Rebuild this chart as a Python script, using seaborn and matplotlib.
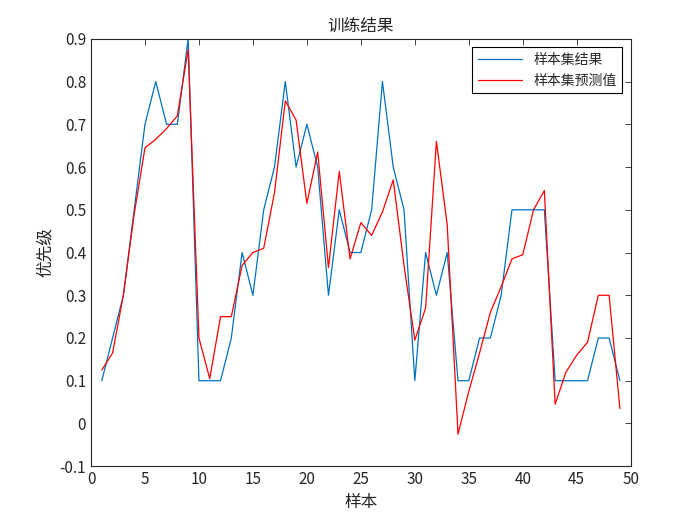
import numpy as np
import pandas as pd
import matplotlib
matplotlib.use('agg')
import matplotlib.pyplot as plt
import seaborn as sns

samples = list(range(1, 50))
actual = [0.1, 0.2, 0.3, 0.5, 0.7, 0.8, 0.7, 0.7, 0.9, 0.1,
          0.1, 0.1, 0.2, 0.4, 0.3, 0.5, 0.6, 0.8, 0.6, 0.7,
          0.6, 0.3, 0.5, 0.4, 0.4, 0.5, 0.8, 0.6, 0.5, 0.1,
          0.4, 0.3, 0.4, 0.1, 0.1, 0.2, 0.2, 0.3, 0.5, 0.5,
          0.5, 0.5, 0.1, 0.1, 0.1, 0.1, 0.2, 0.2, 0.1]
predicted = [0.125, 0.165, 0.3, 0.49, 0.645, 0.665, 0.69, 0.72, 0.875, 0.2,
             0.105, 0.25, 0.25, 0.37, 0.4, 0.41, 0.54, 0.755, 0.71, 0.515,
             0.635, 0.365, 0.59, 0.385, 0.47, 0.44, 0.495, 0.57, 0.37, 0.195,
             0.27, 0.66, 0.465, -0.025, 0.075, 0.165, 0.26, 0.32, 0.385, 0.395,
             0.5, 0.545, 0.045, 0.12, 0.16, 0.19, 0.3, 0.3, 0.035]

sns.set_style('white')
plt.rcParams['font.family'] = ['Noto Sans CJK SC', 'DejaVu Sans']
plt.rcParams['xtick.direction'] = 'in'
plt.rcParams['ytick.direction'] = 'in'

fig = plt.figure(figsize=(7, 5.25), dpi=100)
ax = fig.add_axes([0.13, 0.112, 0.771, 0.814])

sns.lineplot(x=samples, y=actual, ax=ax, color='#0072BD', lw=0.9, label='样本集结果')
sns.lineplot(x=samples, y=predicted, ax=ax, color='red', lw=0.9, label='样本集预测值')

ax.set_xlim(0, 50)
ax.set_ylim(-0.1, 0.9)
ax.set_xticks(np.arange(0, 51, 5))
ax.set_yticks(np.round(np.arange(-0.1, 0.91, 0.1), 1))
ax.set_yticklabels([f'{v:g}' for v in np.round(np.arange(-0.1, 0.91, 0.1), 1)])
ax.tick_params(labelsize=11, length=4, width=0.6, top=True, right=True, colors='#262626')
for s in ax.spines.values():
    s.set_linewidth(0.8)
    s.set_color('#262626')

ax.set_title('训练结果', fontsize=12)
ax.set_xlabel('样本', fontsize=12)
ax.set_ylabel('优先级', fontsize=12)
leg = ax.legend(loc='upper right', fontsize=10, fancybox=False, framealpha=1,
                edgecolor='black', borderaxespad=0.6, handlelength=3.2)
leg.get_frame().set_linewidth(0.8)

plt.savefig('out.png')
